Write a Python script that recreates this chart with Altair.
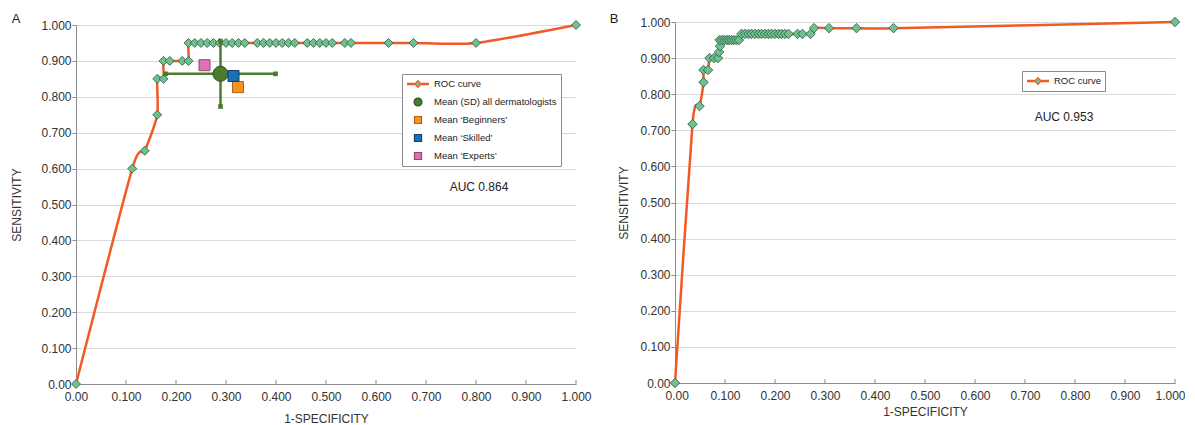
import altair as alt
import pandas as pd

# ---------------- data ----------------
# Panel A: ROC curve points (1-specificity, sensitivity)
a_fpr = [0.0, 0.1125, 0.1375, 0.1625, 0.1625, 0.175, 0.175, 0.1875, 0.2125, 0.225,
         0.225, 0.2375, 0.25, 0.2625, 0.275, 0.2875, 0.3, 0.3125, 0.325, 0.3375,
         0.3625, 0.375, 0.3875, 0.4, 0.4125, 0.425, 0.4375,
         0.4625, 0.475, 0.4875, 0.5, 0.5125, 0.5375, 0.55, 0.625, 0.675, 0.8, 1.0]
a_tpr = [0.0, 0.60, 0.65, 0.75, 0.85, 0.85, 0.90, 0.90, 0.90, 0.90,
         0.95, 0.95, 0.95, 0.95, 0.95, 0.95, 0.95, 0.95, 0.95, 0.95,
         0.95, 0.95, 0.95, 0.95, 0.95, 0.95, 0.95,
         0.95, 0.95, 0.95, 0.95, 0.95, 0.95, 0.95, 0.95, 0.95, 0.95, 1.0]

# Panel A: dermatologist means
group_names = ["Mean (SD) all dermatologists", "Mean \u2018Beginners\u2019",
               "Mean \u2018Skilled\u2019", "Mean \u2018Experts\u2019"]
group_fpr = [0.289, 0.324, 0.315, 0.257]
group_tpr = [0.864, 0.827, 0.858, 0.888]
all_sd_fpr = 0.110
all_sd_tpr = 0.091

# Panel B: ROC curve points
b_fpr = [0.0, 0.035, 0.049, 0.057, 0.057, 0.066, 0.069, 0.078, 0.086, 0.088,
         0.090, 0.089, 0.094, 0.099, 0.104, 0.108, 0.113, 0.118, 0.123, 0.128,
         0.133, 0.140, 0.147, 0.153, 0.160, 0.167, 0.173, 0.180, 0.187, 0.193,
         0.200, 0.207, 0.213, 0.220, 0.227, 0.245, 0.255, 0.271,
         0.278, 0.308, 0.363, 0.437, 1.0]
b_tpr = [0.0, 0.717, 0.767, 0.833, 0.867, 0.867, 0.900, 0.900, 0.900, 0.917,
         0.933, 0.950, 0.950, 0.950, 0.950, 0.950, 0.950, 0.950, 0.950, 0.950,
         0.967, 0.967, 0.967, 0.967, 0.967, 0.967, 0.967, 0.967, 0.967, 0.967,
         0.967, 0.967, 0.967, 0.967, 0.967, 0.967, 0.967, 0.967,
         0.983, 0.983, 0.983, 0.983, 1.0]

auc_labels = ["AUC 0.864", "AUC 0.953"]
panel_letters = ["A", "B"]
roc_name = "ROC curve"
tick_values = [0.0, 0.1, 0.2, 0.3, 0.4, 0.5, 0.6, 0.7, 0.8, 0.9, 1.0]

# ---------------- style ----------------
FONT = "Liberation Sans"
ORANGE = "#f15a24"
DIA_FILL = "#6cc28f"
DIA_STROKE = "#34503f"
DKGREEN = "#4a7c2f"
GRID = "#d9d9d9"
AXC = "#8c8c8c"
TXT = "#333333"

ROC_PATH = ("M-1,-0.05L-0.3,-0.05M-1,0.05L-0.3,0.05M0.3,-0.05L1,-0.05M0.3,0.05L1,0.05"
            "M0,-0.3L0.3,0L0,0.3L-0.3,0Z")
CIRCLE_PATH = "M-0.36,0A0.36,0.36,0,1,0,0.36,0A0.36,0.36,0,1,0,-0.36,0Z"
SQUARE_PATH = "M-0.32,-0.32L0.32,-0.32L0.32,0.32L-0.32,0.32Z"

series_domain = [roc_name] + group_names
fill_range = [DIA_FILL, DKGREEN, "#f7941d", "#1c6fb5", "#e070b8"]
stroke_range = [ORANGE, "#2f4f1c", "#a8601a", "#11406b", "#8a4a78"]
shape_range = [ROC_PATH, CIRCLE_PATH, SQUARE_PATH, SQUARE_PATH, SQUARE_PATH]

LBL = "datum.value == 0 ? '0.00' : format(datum.value, '.3f')"


def panel(idx, fpr, tpr, H, top_gap, auc_xy, leg_xy, n_series, y_tpad, x_tpad, dia_size,
          letter_xy, flush):
    W = 500
    xs = alt.Scale(domain=[0, 1], nice=False, zero=False)
    ys = alt.Scale(domain=[0, 1], nice=False, zero=False, range=[H, top_gap])
    flush_kw = {"labelFlush": True, "labelFlushOffset": 10} if flush else {"labelFlush": False}
    xaxis = alt.Axis(title="1-SPECIFICITY", values=tick_values, labelExpr=LBL, grid=False,
                     tickSize=0, labelPadding=7, titlePadding=x_tpad, domainColor=AXC,
                     **flush_kw)
    yaxis = alt.Axis(title="SENSITIVITY", values=tick_values, labelExpr=LBL, grid=True,
                     gridColor=GRID, tickSize=4, tickColor=AXC, labelPadding=1,
                     titlePadding=y_tpad, domainColor=AXC, labelFlush=False)

    def X(f):
        return alt.X(f, type="quantitative", scale=xs, axis=xaxis)

    def Y(f):
        return alt.Y(f, type="quantitative", scale=ys, axis=yaxis)

    dom = series_domain[:n_series]
    legend = alt.Legend(orient="none", legendX=leg_xy[0], legendY=leg_xy[1], title=None,
                        padding=4, strokeColor="#8a8a8a", fillColor="white",
                        labelFont=FONT, labelFontSize=9.5, labelColor="#222222",
                        symbolSize=484, clipHeight=12, rowPadding=6, labelOffset=4,
                        symbolStrokeWidth=1.2, symbolOpacity=1)
    fill_enc = alt.Fill("series:N", scale=alt.Scale(domain=dom, range=fill_range[:n_series]), legend=legend)
    stroke_enc = alt.Stroke("series:N", scale=alt.Scale(domain=dom, range=stroke_range[:n_series]), legend=legend)
    shape_enc = alt.Shape("series:N", scale=alt.Scale(domain=dom, range=shape_range[:n_series]), legend=legend)

    roc = pd.DataFrame({"fpr": fpr, "tpr": tpr, "i": list(range(len(fpr)))})
    layers = []
    layers.append(alt.Chart(roc).mark_line(color=ORANGE, strokeWidth=2.5, interpolate="cardinal",
                                           tension=0.3)
                  .encode(x=X("fpr"), y=Y("tpr"), order=alt.Order("i:Q")))
    layers.append(alt.Chart(roc).mark_point(shape="diamond", filled=True, fill=DIA_FILL,
                                            stroke=DIA_STROKE, strokeWidth=0.8, size=dia_size, opacity=1)
                  .encode(x=X("fpr"), y=Y("tpr")))

    if n_series > 1:
        mx, my = group_fpr[0], group_tpr[0]
        err_h = pd.DataFrame({"fpr": [mx - all_sd_fpr], "fpr2": [mx + all_sd_fpr], "tpr": [my]})
        err_v = pd.DataFrame({"fpr": [mx], "tpr": [my - all_sd_tpr], "tpr2": [my + all_sd_tpr]})
        layers.append(alt.Chart(err_h).mark_rule(color=DKGREEN, strokeWidth=2.5)
                      .encode(x=X("fpr"), x2="fpr2:Q", y=Y("tpr")))
        layers.append(alt.Chart(err_v).mark_rule(color=DKGREEN, strokeWidth=2.5)
                      .encode(x=X("fpr"), y=Y("tpr"), y2="tpr2:Q"))
        caps = pd.DataFrame({"fpr": [mx - all_sd_fpr, mx + all_sd_fpr, mx, mx],
                             "tpr": [my, my, my - all_sd_tpr, my + all_sd_tpr]})
        layers.append(alt.Chart(caps).mark_point(shape="square", filled=True, color=DKGREEN,
                                                 size=22, opacity=1)
                      .encode(x=X("fpr"), y=Y("tpr")))
        circ = pd.DataFrame({"fpr": group_fpr[:1], "tpr": group_tpr[:1], "series": group_names[:1]})
        sq = pd.DataFrame({"fpr": group_fpr[1:], "tpr": group_tpr[1:], "series": group_names[1:]})
        layers.append(alt.Chart(circ).mark_point(filled=True, size=1736, strokeWidth=1, opacity=1)
                      .encode(x=X("fpr"), y=Y("tpr"), fill=fill_enc, stroke=stroke_enc, shape=shape_enc))
        layers.append(alt.Chart(sq).mark_point(filled=True, size=1182, strokeWidth=1, opacity=1)
                      .encode(x=X("fpr"), y=Y("tpr"), fill=fill_enc, stroke=stroke_enc, shape=shape_enc))
    else:
        leg = pd.DataFrame({"series": dom})
        layers.append(alt.Chart(leg).transform_filter("false")
                      .mark_point(filled=True, opacity=1, size=100)
                      .encode(fill=fill_enc, stroke=stroke_enc, shape=shape_enc))

    # inward x-axis ticks
    tk = pd.DataFrame({"fpr": tick_values[1:]})
    layers.append(alt.Chart(tk).mark_rule(color=AXC, strokeWidth=1)
                  .encode(x=X("fpr"), y=alt.value(H), y2=alt.value(H - 4)))

    auc = pd.DataFrame({"fpr": [auc_xy[0]], "tpr": [auc_xy[1]], "t": [auc_labels[idx]]})
    layers.append(alt.Chart(auc).mark_text(font=FONT, fontSize=12, color="#222222")
                  .encode(x=X("fpr"), y=Y("tpr"), text="t:N"))

    let = pd.DataFrame({"t": [panel_letters[idx]]})
    layers.append(alt.Chart(let).mark_text(font=FONT, fontSize=13, color="#222222")
                  .encode(x=alt.value(letter_xy[0]), y=alt.value(letter_xy[1]), text="t:N"))

    return alt.layer(*layers).properties(width=W, height=H)


pa = panel(0, a_fpr, a_tpr, 362, 3, (0.806, 0.549), (326, 52), 5, 17, 11, 81, (-60, -3), False)
pb = panel(1, b_fpr, b_tpr, 361, 0, (0.778, 0.737), (347, 49), 1, 9, 5, 90, (-61, -3), True)

chart = (
    alt.hconcat(pa, pb, spacing=17)
    .resolve_scale(x="independent", y="independent", fill="independent",
                   stroke="independent", shape="independent")
    .resolve_legend(fill="independent", stroke="independent", shape="independent")
    .properties(padding={"left": 2, "top": 5, "right": 0, "bottom": 0})
    .configure(font=FONT)
    .configure_axis(labelFont=FONT, titleFont=FONT, labelFontSize=12, titleFontSize=12,
                    titleFontWeight="normal", labelColor=TXT, titleColor=TXT)
    .configure_view(stroke=None)
)

chart.save("out.html", embed_options={"renderer": "svg", "actions": False})
